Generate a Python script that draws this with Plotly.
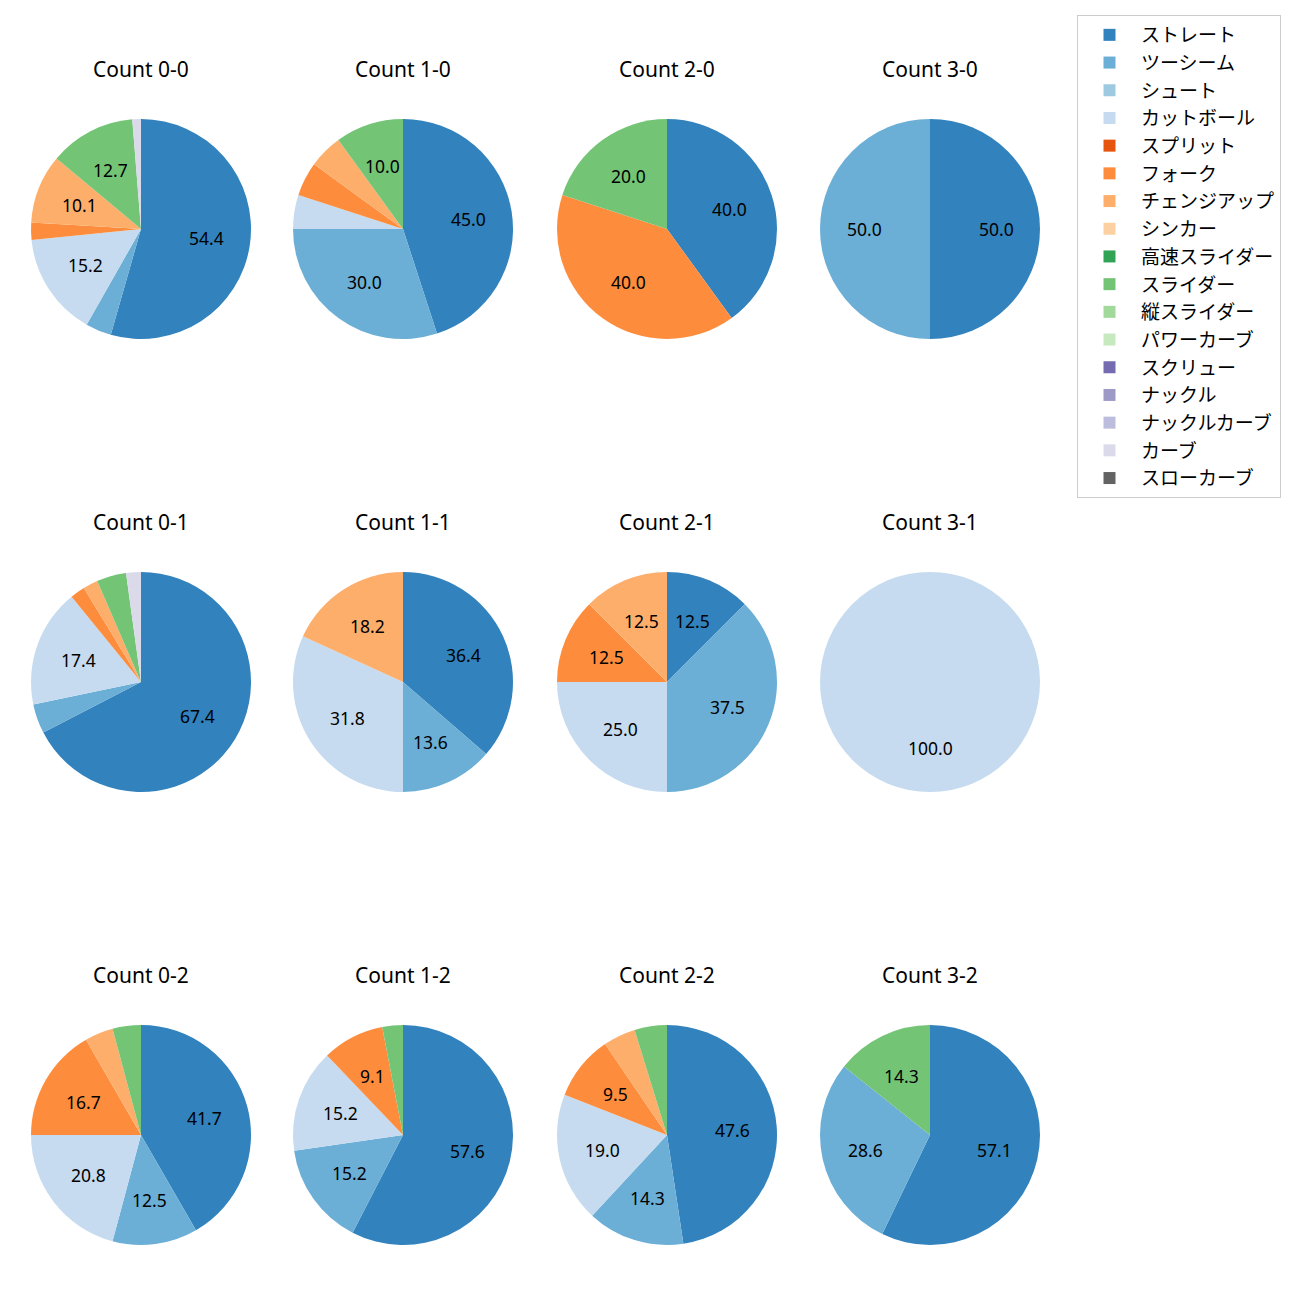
import math
import plotly.graph_objects as go

pitch_types = ["ストレート", "ツーシーム", "シュート", "カットボール", "スプリット", "フォーク",
               "チェンジアップ", "シンカー", "高速スライダー", "スライダー", "縦スライダー",
               "パワーカーブ", "スクリュー", "ナックル", "ナックルカーブ", "カーブ", "スローカーブ"]
colors = ["#3182bd", "#6baed6", "#9ecae1", "#c6dbef", "#e6550d", "#fd8d3c", "#fdae6b",
          "#fdd0a2", "#31a354", "#74c476", "#a1d99b", "#c7e9c0", "#756bb1", "#9e9ac8",
          "#bcbddc", "#dadaeb", "#636363"]

counts = ["0-0", "1-0", "2-0", "3-0",
          "0-1", "1-1", "2-1", "3-1",
          "0-2", "1-2", "2-2", "3-2"]

# pitch counts per ball-strike count (order follows pitch_types)
c_0_0 = [43, 3, 0, 12, 0, 2, 8, 0, 0, 10, 0, 0, 0, 0, 0, 1, 0]
c_1_0 = [9, 6, 0, 1, 0, 1, 1, 0, 0, 2, 0, 0, 0, 0, 0, 0, 0]
c_2_0 = [2, 0, 0, 0, 0, 2, 0, 0, 0, 1, 0, 0, 0, 0, 0, 0, 0]
c_3_0 = [1, 1, 0, 0, 0, 0, 0, 0, 0, 0, 0, 0, 0, 0, 0, 0, 0]
c_0_1 = [31, 2, 0, 8, 0, 1, 1, 0, 0, 2, 0, 0, 0, 0, 0, 1, 0]
c_1_1 = [8, 3, 0, 7, 0, 0, 4, 0, 0, 0, 0, 0, 0, 0, 0, 0, 0]
c_2_1 = [1, 3, 0, 2, 0, 1, 1, 0, 0, 0, 0, 0, 0, 0, 0, 0, 0]
c_3_1 = [0, 0, 0, 1, 0, 0, 0, 0, 0, 0, 0, 0, 0, 0, 0, 0, 0]
c_0_2 = [10, 3, 0, 5, 0, 4, 1, 0, 0, 1, 0, 0, 0, 0, 0, 0, 0]
c_1_2 = [19, 5, 0, 5, 0, 3, 0, 0, 0, 1, 0, 0, 0, 0, 0, 0, 0]
c_2_2 = [10, 3, 0, 4, 0, 2, 1, 0, 0, 1, 0, 0, 0, 0, 0, 0, 0]
c_3_2 = [4, 2, 0, 0, 0, 0, 0, 0, 0, 1, 0, 0, 0, 0, 0, 0, 0]

data = [c_0_0, c_1_0, c_2_0, c_3_0, c_0_1, c_1_1, c_2_1, c_3_1, c_0_2, c_1_2, c_2_2, c_3_2]

W = H = 1300
LATIN = "Noto Sans, Noto Sans CJK JP"
CJK = "Noto Sans CJK JP"
col_cx = [141, 403, 667, 930]
row_cy = [229, 682, 1135]
R = 110
label_frac = 0.6
title_off = 160

fig = go.Figure()
annotations = []
for idx, (cnt, vals) in enumerate(zip(counts, data)):
    r_i, c_i = divmod(idx, 4)
    cx, cy = col_cx[c_i], row_cy[r_i]
    fig.add_trace(go.Pie(
        labels=pitch_types, values=vals,
        marker=dict(colors=colors, line=dict(width=0)),
        sort=False, direction="clockwise", rotation=0,
        textinfo="none", hoverinfo="label+percent",
        domain=dict(x=[(cx - R) / W, (cx + R) / W], y=[1 - (cy + R) / H, 1 - (cy - R) / H]),
        showlegend=(idx == 0), name=cnt,
    ))
    annotations.append(dict(
        x=cx / W, y=1 - (cy - title_off) / H, xref="paper", yref="paper",
        text=f"Count {cnt}", showarrow=False, font=dict(size=21, color="black", family=LATIN),
        xanchor="center", yanchor="middle"))
    total = sum(vals)
    acc = 0.0
    for v in vals:
        if v <= 0:
            continue
        pct = 100.0 * v / total
        mid = (acc + v / 2) / total * 2 * math.pi
        acc += v
        if pct < 9:
            continue
        lx = cx + label_frac * R * math.sin(mid)
        ly = cy - label_frac * R * math.cos(mid)
        annotations.append(dict(
            x=lx / W, y=1 - ly / H, xref="paper", yref="paper",
            text=f"{pct:.1f}", showarrow=False, font=dict(size=17.5, color="black", family=LATIN),
            xanchor="center", yanchor="middle"))

fig.update_layout(
    width=W, height=H, margin=dict(l=0, r=0, t=0, b=0),
    paper_bgcolor="white", plot_bgcolor="white",
    font=dict(family=LATIN, size=14, color="black"),
    annotations=annotations,
    legend=dict(x=1077 / W, y=1 - 15 / H, xanchor="left", yanchor="top",
                bordercolor="#cccccc", borderwidth=1, bgcolor="rgba(255,255,255,0.8)",
                itemwidth=53,
                font=dict(size=19, family=CJK, color="black"), traceorder="normal"),
)

fig.write_html("out.html")
